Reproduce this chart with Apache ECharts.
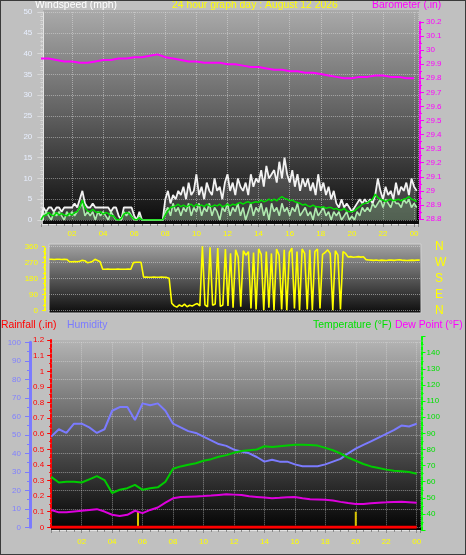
<!DOCTYPE html>
<html><head><meta charset="utf-8">
<script src="https://cdn.jsdelivr.net/npm/echarts@6/dist/echarts.min.js"></script>
<style>
html,body{margin:0;padding:0;background:#c0c0c0;}
#wrap{position:relative;width:466px;height:555px;}
#chart{width:466px;height:555px;}
#frame{position:absolute;left:0;top:0;width:466px;height:555px;box-sizing:border-box;border:1px solid #3a3a3a;pointer-events:none;}
</style></head><body>
<div id="wrap"><div id="chart"></div><div id="frame"></div></div>
<script>
// ---------- tick labels ----------
const hourLabels = ['02','04','06','08','10','12','14','16','18','20','22','00'];
const dirLetters = ['N','E','S','W','N'];

// ---------- wind (10-minute samples, mph) ----------
const WIND_STEP_H = 1/6;
const windGust = [
 0,3,2,3,3,2,  3,3,2,3,3,3,  3,4,3,5,7,4,  3,3,4,3,3,3,
 3,3,3,2,3,3,  1,0,3,3,3,3,  1,0,2,0,0,0,  0,0,0,0,0,0,
 5,7,4,6,5,7,  6,8,5,9,6,7,  11,6,8,5,9,7, 6,10,7,8,5,9,
 11,7,9,6,10,8, 7,9,6,11,8,10, 9,12,8,13,10,11, 12,9,14,10,15,11,
 9,12,8,11,7,10, 8,10,7,9,6,11, 7,9,6,8,5,7, 4,3,5,3,4,3,
 2,3,4,5,4,5,  4,5,4,6,10,7, 5,8,6,7,5,9,  6,8,7,9,6,10,
 8,7
];
const windSpeed = [
 0,1,2,1,0,2,  1,2,1,0,2,1,  2,1,2,3,4,1,  2,1,2,0,2,1,
 2,1,0,2,1,0,  0,0,2,1,2,1,  0,0,1,0,0,0,  0,0,0,0,0,0,
 2,3,1,4,2,3,  1,3,2,4,1,3,  2,4,1,3,2,4,  1,3,2,0,3,2,
 4,1,3,2,4,1,  3,0,2,4,1,3,  2,4,1,3,0,4,  2,3,1,4,2,3,
 1,3,2,4,1,2,  3,1,2,0,3,1,  2,3,1,2,0,2,  1,2,0,1,2,0,
 1,0,2,1,3,2,  3,2,4,3,4,5,  3,5,4,3,5,4,  4,3,5,4,5,3,
 4,3
];
const windAvg = [
 0,1,1.2,1.8,1.2,1,  1.8,1.2,1.6,1.2,1,1.6,  1.2,1.8,2,3,4.8,3,  2.2,2,2.6,2,1.8,2,
 1.4,1.8,1.6,1,1,0.2,  0,0.4,1.4,1.8,1.6,0.8,  0.2,0,0.6,0,0,0,  0,0,0,0,0,0,
 1.2,2.2,3,3.2,3.4,3.8,  3.2,3.6,3.2,3.4,3.8,3.2,  3.8,3.4,3.6,3.2,3.8,3.4,  3.2,3.6,3.4,3.8,3.2,3.4,
 3.8,3.4,3.8,3.6,4,4.2,  3.8,4.2,4.4,4,4.2,4.4,  4.2,4.8,4.4,4.6,5,4.6,  5,4.6,5.2,5.6,5.2,5,
 4.6,4.8,4.4,4.2,4,3.6,  3.8,3.4,3.2,3.6,3.2,3.2,  3,3.2,2.8,3,3,2.6,  2.8,2.4,2.4,2.8,2.2,2,
 2,2.2,2.8,3.2,3.8,4,  4.2,4.6,5,6.2,5.4,5,  4.8,4.4,4.8,5,4.6,4.8,  5,4.6,5,5.2,5.6,5,
 4.8,4.4
];

// ---------- barometer (30-minute samples, inHg) ----------
const BARO_STEP_H = 0.5;
const barometer = [
 29.94,29.94,29.93,29.92,29.92,29.91,29.91,29.92,29.93,29.93,
 29.94,29.94,29.95,29.95,29.96,29.97,29.95,29.94,29.93,29.92,
 29.92,29.91,29.91,29.91,29.90,29.90,29.89,29.88,29.88,29.87,
 29.86,29.86,29.85,29.85,29.84,29.84,29.83,29.82,29.81,29.80,
 29.80,29.81,29.81,29.82,29.82,29.81,29.81,29.80,29.80
];

// ---------- wind direction (10-minute samples, degrees) ----------
const DIR_STEP_H = 1/6;
const windDir = [
 287,287,286,287,287,286,  287,286,273,273,274,273,  276,281,279,268,270,275,  287,280,273,231,231,232,
 231,231,231,232,231,231,  231,232,231,268,270,270,  270,186,187,186,186,187,  186,186,187,186,185,180,
 40,25,18,30,22,35,  20,28,24,32,38,25,  360,30,20,355,28,35,  350,22,30,345,25,320,
 15,340,300,20,335,310,  330,10,325,5,345,315,  0,330,15,320,0,345,  310,5,340,0,325,350,
 10,330,0,345,320,5,  340,0,330,345,10,315,  325,340,320,0,335,310,  5,330,320,300,302,298,
 300,302,299,301,285,283,  282,281,283,280,282,281,  280,283,282,281,283,284,  282,281,280,281,282,281,
 283,282
];

// ---------- humidity / temperature / dew point / rain (30-minute samples) ----------
const CLIMATE_STEP_H = 0.5;
const humidity = [
 49,53,51,56,56,54,51,53,63,65,
 65,58,67,66,67,63,56,54,52,51,
 49,47,45,44,42,41,40,38,35.5,36.5,
 35.5,35.5,34,33,33,33,34,35.5,37,40,
 42.5,44.5,46.5,48.5,50.5,52.5,55,54.5,56
];
const temperature = [
 63,59.5,60,60,59.5,61.5,63.5,61,53,55,
 56,58,55,56,56.5,60,68,69.5,70.5,71.5,
 73,74,75.5,76.5,78,79,79.5,80,82,81.5,
 82,82.5,83,83,82.8,82.4,81,79.5,77.5,75,
 73,71,69.5,68.5,67.5,66.8,66.5,66,65
];
const dewPoint = [
 42.5,41,41,41.5,42,42.5,43,41.5,39.5,38.8,
 39.5,42,40.5,42.5,44,47,49.7,50.5,50.7,50.9,
 51.1,51.4,51.8,52.2,52,51.8,51,50.6,50.2,49.7,
 50,50.4,50.5,49.8,49.2,49,48.8,48.3,47.5,46.8,
 46.2,46.2,46.6,47,47.2,47.5,47.6,47.3,47
];
const rainfall = [
 0,0,0,0,0,0,0,0,0,0, 0,0,0,0,0,0,0,0,0,0,
 0,0,0,0,0,0,0,0,0,0, 0,0,0,0,0,0,0,0,0,0,
 0,0,0,0,0,0,0,0,0
];
const rainMarkTimes = [5.7, 20.0];
const rainMarkValues = [0.1, 0.1];

// ---------- helpers ----------
const toPairs = (arr, step) => arr.map((v, i) => [i * step, v]);
const FONT = 'Liberation Sans';
const TITLE_SIZE = 10.4;
const hourFmt = v => (Math.abs(v % 2) < 1e-9 && v > 0) ? hourLabels[Math.round(v / 2) - 1] : '';
const grad = (a, b, c) => ({type:'linear', x:0, y:0, x2:0, y2:1,
  colorStops:[{offset:0,color:a},{offset:0.5,color:b},{offset:1,color:c}]});
const dotGrid = {show:true, lineStyle:{color:'rgba(225,225,225,0.5)', type:'dotted', width:1}};
const hidden = (g) => ({gridIndex:g, type:'value', show:false, min:0, max:1, splitLine:{show:false}});
const hiddenTime = (g) => ({gridIndex:g, type:'value', show:false, min:0, max:24.25, splitLine:{show:false}});
const gridBase = {containLabel:false, outerBoundsMode:'none'};
const ttl = (text, left, top, color) => ({text, left, top, padding:0,
  textStyle:{color, fontSize:TITLE_SIZE, fontWeight:'normal', fontFamily:FONT}});

const option = {
  animation:false,
  backgroundColor:'#c0c0c0',
  textStyle:{fontFamily:FONT},
  title:[
    ttl('Windspeed (mph)', 35, 0, '#ffffff'),
    ttl('24 hour graph day : August 12 2026', 172, 0, '#ffff00'),
    ttl('Barometer (.in)', 372, 0, '#ff00ff'),
    ttl('Rainfall (.in)', 1, 320, '#ff0000'),
    ttl('Humidity', 67, 320, '#7b7bff'),
    ttl('Temperature (°F)', 313, 320, '#00e000'),
    ttl('Dew Point (°F)', 395, 320, '#ff00ff')
  ],
  grid:[
    Object.assign({left:43, top:10, width:376, height:214, show:true, borderWidth:0, backgroundColor:grad('#aaaaaa','#5e5e5e','#0a0a0a')}, gridBase),
    Object.assign({left:40.9, right:48, top:12, bottom:335}, gridBase),
    Object.assign({left:40.9, right:48, top:22, bottom:336}, gridBase),
    Object.assign({left:49, top:244, width:372, height:69, show:true, borderWidth:1, borderColor:'#d0d0d0', backgroundColor:grad('#a4a4a4','#585858','#0c0c0c')}, gridBase),
    Object.assign({left:49, right:45, top:246.3, bottom:244.7}, gridBase),
    Object.assign({left:51, top:340, width:370, height:190, show:true, borderWidth:0, backgroundColor:grad('#b4b4b4','#5a5a5a','#030303')}, gridBase),
    Object.assign({left:51.2, right:45.5, top:342.3, bottom:27.7}, gridBase),
    Object.assign({left:51.2, right:45.5, top:340.1, bottom:27.7}, gridBase),
    Object.assign({left:51.2, right:45.5, top:336.6, bottom:24.9}, gridBase)
  ],
  xAxis:[
    hidden(0),
    {gridIndex:1, type:'value', min:0, max:24.25, interval:2, position:'bottom', offset:4,
     axisLine:{show:true, onZero:false, lineStyle:{color:'#e4e4e4', width:1}},
     axisTick:{show:true, length:3, lineStyle:{color:'#8a8a8a'}},
     minorTick:{show:true, splitNumber:4, length:2, lineStyle:{color:'#8a8a8a'}},
     axisLabel:{color:'#ffff00', fontSize:8, margin:6, formatter:hourFmt},
     splitLine:dotGrid},
    hiddenTime(2),
    hidden(3),
    hiddenTime(4),
    hidden(5),
    {gridIndex:6, type:'value', min:0, max:24.25, interval:2, position:'bottom', offset:2.7,
     axisLine:{show:true, onZero:false, lineStyle:{color:'#e4e4e4', width:1}},
     axisTick:{show:true, length:3, lineStyle:{color:'#8a8a8a'}},
     minorTick:{show:true, splitNumber:4, length:2, lineStyle:{color:'#8a8a8a'}},
     axisLabel:{color:'#ffff00', fontSize:8, margin:8, formatter:hourFmt},
     splitLine:dotGrid},
    hiddenTime(7),
    hiddenTime(8)
  ],
  yAxis:[
    hidden(0),
    {gridIndex:1, type:'value', position:'left', offset:-2.4, min:0, max:50, interval:5,
     axisLine:{show:true, onZero:false, lineStyle:{color:'#e4e4e4', width:1}},
     axisTick:{show:true, length:6, lineStyle:{color:'#d8d8d8'}},
     minorTick:{show:true, splitNumber:5, length:3, lineStyle:{color:'#d8d8d8'}},
     axisLabel:{color:'#e8efff', fontSize:8, margin:11},
     splitLine:dotGrid},
    {gridIndex:2, type:'value', position:'right', offset:2, min:28.8, max:30.2, interval:0.1,
     axisLine:{show:true, onZero:false, lineStyle:{color:'#ff00ff', width:2, type:[3,2]}},
     axisTick:{show:true, length:4, lineStyle:{color:'#ff00ff'}},
     minorTick:{show:true, splitNumber:2, length:2, lineStyle:{color:'#ff00ff'}},
     axisLabel:{color:'#ff00ff', fontSize:8, margin:6},
     splitLine:{show:false}},
    hidden(3),
    {gridIndex:4, type:'value', position:'left', offset:4, min:0, max:360, interval:90,
     axisLine:{show:true, onZero:false, lineStyle:{color:'#ffff00', width:2, type:[2,2]}},
     axisTick:{show:true, length:3, lineStyle:{color:'#ffff00'}},
     minorTick:{show:true, splitNumber:3, length:2, lineStyle:{color:'#ffff00'}},
     axisLabel:{color:'#ffff00', fontSize:8, margin:7},
     splitLine:dotGrid},
    {gridIndex:4, type:'value', position:'right', offset:0, min:0, max:360, interval:90,
     axisLine:{show:false, onZero:false}, axisTick:{show:false},
     axisLabel:{color:'#ffff00', fontSize:12, margin:14, formatter:v => dirLetters[Math.round(v/90)]},
     splitLine:{show:false}},
    hidden(5),
    {gridIndex:6, type:'value', position:'left', offset:21.2, min:0, max:100, interval:10,
     axisLine:{show:true, onZero:false, lineStyle:{color:'#7b7bff', width:3}},
     axisTick:{show:true, length:5, lineStyle:{color:'#7b7bff'}},
     minorTick:{show:true, splitNumber:2, length:3, lineStyle:{color:'#7b7bff'}},
     axisLabel:{color:'#8080ff', fontSize:8, margin:9},
     splitLine:dotGrid},
    {gridIndex:7, type:'value', position:'left', offset:0, min:0, max:1.2, interval:0.1,
     axisLine:{show:true, onZero:false, lineStyle:{color:'#ff0000', width:2, type:[3,2]}},
     axisTick:{show:true, length:4, lineStyle:{color:'#ff0000'}},
     minorTick:{show:true, splitNumber:2, length:2, lineStyle:{color:'#ff0000'}},
     axisLabel:{color:'#ff0000', fontSize:8, margin:7},
     splitLine:{show:false}},
    {gridIndex:8, type:'value', position:'right', offset:1, min:30, max:150, interval:10,
     axisLine:{show:true, onZero:false, lineStyle:{color:'#00ff00', width:2, type:[3,2]}},
     axisTick:{show:true, length:4, lineStyle:{color:'#00ff00'}},
     minorTick:{show:true, splitNumber:2, length:2, lineStyle:{color:'#00ff00'}},
     axisLabel:{color:'#00e000', fontSize:8, margin:5, formatter:v => (v === 30 || v === 150) ? '' : String(v)},
     splitLine:{show:false}}
  ],
  series:[
    {name:'Gust', type:'line', xAxisIndex:1, yAxisIndex:1, data:toPairs(windGust, WIND_STEP_H),
     showSymbol:false, lineStyle:{color:'#f2f2f2', width:1.8}, itemStyle:{color:'#f2f2f2'},
     areaStyle:{color:'rgba(225,225,225,0.28)'}, z:2},
    {name:'Speed', type:'line', xAxisIndex:1, yAxisIndex:1, data:toPairs(windSpeed, WIND_STEP_H),
     showSymbol:false, lineStyle:{color:'#aee8ae', width:1.6}, itemStyle:{color:'#aee8ae'},
     areaStyle:{color:'rgba(170,230,170,0.35)'}, z:3},
    {name:'Average', type:'line', xAxisIndex:1, yAxisIndex:1, data:toPairs(windAvg, WIND_STEP_H),
     showSymbol:false, lineStyle:{color:'#00dd00', width:1.5}, itemStyle:{color:'#00dd00'}, z:4},
    {name:'Barometer', type:'line', xAxisIndex:2, yAxisIndex:2, data:toPairs(barometer, BARO_STEP_H),
     showSymbol:false, lineStyle:{color:'#ff00ff', width:2}, itemStyle:{color:'#ff00ff'}, z:5},
    {name:'Direction', type:'line', xAxisIndex:4, yAxisIndex:4, data:toPairs(windDir, DIR_STEP_H),
     showSymbol:false, lineStyle:{color:'#ffff00', width:1.6}, itemStyle:{color:'#ffff00'}},
    {name:'Humidity', type:'line', xAxisIndex:6, yAxisIndex:7, data:toPairs(humidity, CLIMATE_STEP_H),
     showSymbol:false, lineStyle:{color:'#7b7bff', width:2}, itemStyle:{color:'#7b7bff'}},
    {name:'Temperature', type:'line', xAxisIndex:8, yAxisIndex:9, data:toPairs(temperature, CLIMATE_STEP_H),
     showSymbol:false, lineStyle:{color:'#00cc00', width:2}, itemStyle:{color:'#00cc00'}},
    {name:'Dew Point', type:'line', xAxisIndex:8, yAxisIndex:9, data:toPairs(dewPoint, CLIMATE_STEP_H),
     showSymbol:false, lineStyle:{color:'#dd00dd', width:2}, itemStyle:{color:'#dd00dd'}},
    {name:'Rain marks', type:'bar', xAxisIndex:7, yAxisIndex:8, barWidth:2,
     data:rainMarkTimes.map((t, i) => [t, rainMarkValues[i]]), itemStyle:{color:'#d8c400'}},
    {name:'Rainfall', type:'line', xAxisIndex:7, yAxisIndex:8, data:toPairs(rainfall, CLIMATE_STEP_H),
     showSymbol:false, lineStyle:{color:'#ff0000', width:3}, itemStyle:{color:'#ff0000'}, z:6}
  ]
};
const chart = echarts.init(document.getElementById('chart'), null, {renderer:'canvas'});
chart.setOption(option);
</script>
</body></html>
